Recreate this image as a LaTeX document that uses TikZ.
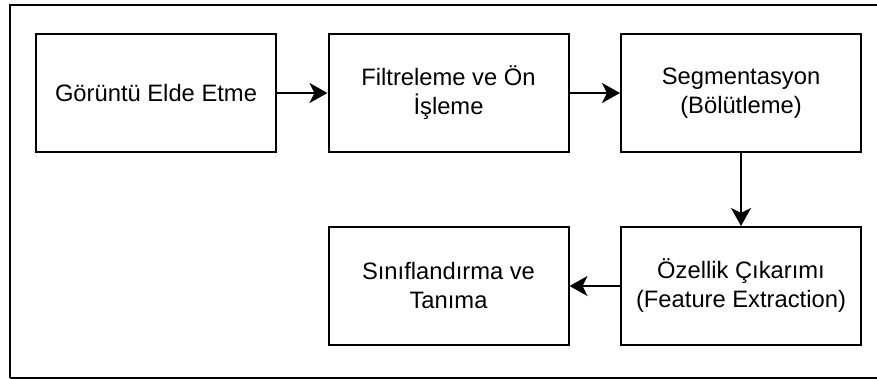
\documentclass[tikz,border=0pt]{standalone}
\usepackage{fontspec}
\setmainfont{Liberation Sans}
\usetikzlibrary{arrows.meta}
\begin{document}
\begin{tikzpicture}[x=1pt,y=-1pt,
  stepbox/.style={draw=black,line width=2pt,minimum width=240pt,minimum height=118pt,
    inner sep=0pt,align=center,font=\fontsize{23.75}{29}\selectfont},
  flow/.style={line width=2pt,-{Stealth[length=18pt,width=20pt,inset=5pt]}}]
\useasboundingbox (0,0) rectangle (877,379);
\clip (0,0) rectangle (877,379);
\draw[line width=2pt] (10,378) -- (10,5) -- (890,5);
\draw[line width=2pt] (10,377.5) -- (890,377.5);
\node[stepbox] (a) at (156,93) {Görüntü Elde Etme};
\node[stepbox] (b) at (448.5,93) {Filtreleme ve Ön\\İşleme};
\node[stepbox] (c) at (741,93) {Segmentasyon\\(Bölütleme)};
\node[stepbox] (d) at (741,286) {Özellik Çıkarımı\\(Feature Extraction)};
\node[stepbox] (e) at (448.5,286) {Sınıflandırma ve\\Tanıma};
\draw[flow] (a) -- (b);
\draw[flow] (b) -- (c);
\draw[flow] (c) -- (d);
\draw[flow] (d) -- (e);
\end{tikzpicture}
\end{document}
